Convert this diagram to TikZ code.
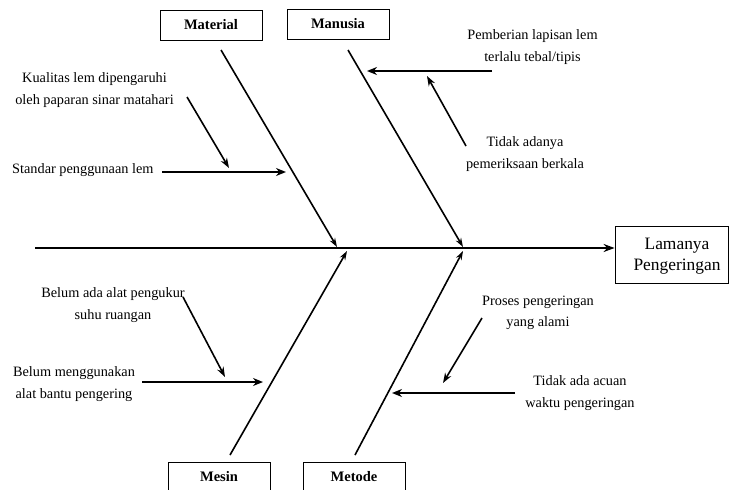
\documentclass[tikz,border=0pt]{standalone}
\usepackage{fontspec}
\setmainfont{Liberation Serif}
\usetikzlibrary{arrows.meta}
\begin{document}
\begin{tikzpicture}[x=1pt,y=-1pt,
  catbox/.style={draw,line width=0.8pt,minimum width=102pt,minimum height=30pt,inner sep=0pt,font=\bfseries\fontsize{14.5}{16}\selectfont},
  effbox/.style={draw,line width=0.8pt,minimum width=113pt,minimum height=57pt,inner sep=0pt},
  efftext/.style={align=center,inner sep=0pt,font=\fontsize{17.4}{21}\selectfont},
  causetext/.style={align=center,inner sep=0pt,font=\fontsize{14.3}{21.5}\selectfont},
  bone/.style={line width=1.6pt,-{Stealth[length=9pt,width=6pt]}},
  spine/.style={line width=2.6pt,-{Stealth[length=11pt,width=8pt]}},
  thickcause/.style={line width=2.8pt,-{Stealth[length=10pt,width=8pt]}},
  thincause/.style={line width=1.6pt,-{Stealth[length=10pt,width=7pt]}}]
\useasboundingbox (0,0) rectangle (729,490);
\clip (0,0) rectangle (729,490);

% category boxes
\node[catbox] (material) at (211,25) {Material};
\node[catbox] (manusia) at (338,24) {Manusia};
\node[catbox] (mesin) at (219,477) {Mesin};
\node[catbox] (metode) at (354,477) {Metode};

% effect
\node[effbox] (effect) at (671.5,254.5) {};
\node[efftext] (efflabel) at (677,256) {Lamanya\\Pengeringan};

% spine
\coordinate (tail) at (35,248);
\draw[spine] (tail) -- (tail -| effect.west);

% main bones
\coordinate (matS) at (221,50);  \coordinate (matE) at (337,247);
\coordinate (manS) at (348,50);  \coordinate (manE) at (463,247);
\coordinate (mesS) at (230,455); \coordinate (mesE) at (347,251);
\coordinate (metS) at (355,455); \coordinate (metE) at (463,251);
\draw[bone] (matS) -- (matE);
\draw[bone] (manS) -- (manE);
\draw[bone] (mesS) -- (mesE);
\draw[bone] (metS) -- (metE);

% material causes
\node[causetext] (c1) at (94.5,90) {Kualitas lem dipengaruhi\\oleh paparan sinar matahari};
\node[causetext,anchor=west] (c2) at (12,170) {Standar penggunaan lem};
\coordinate (c1a) at (187,97);  \coordinate (c1b) at (229,168);
\coordinate (c2a) at (162,172); \coordinate (c2b) at (286,172);
\draw[thincause] (c1a) -- (c1b);
\draw[thickcause] (c2a) -- (c2b);

% manusia causes
\node[causetext] (c3) at (532.5,47) {Pemberian lapisan lem\\terlalu tebal/tipis};
\node[causetext] (c4) at (525,154) {Tidak adanya\\pemeriksaan berkala};
\coordinate (c3a) at (492,71);  \coordinate (c3b) at (367,71);
\coordinate (c4a) at (466,146); \coordinate (c4b) at (427,76);
\draw[thickcause] (c3a) -- (c3b);
\draw[thincause] (c4a) -- (c4b);

% mesin causes
\node[causetext] (c5) at (113,305) {Belum ada alat pengukur\\suhu ruangan};
\node[causetext] (c6) at (74,384) {Belum menggunakan\\alat bantu pengering};
\coordinate (c5a) at (183,297); \coordinate (c5b) at (225,377);
\coordinate (c6a) at (142,382); \coordinate (c6b) at (263,382);
\draw[thincause] (c5a) -- (c5b);
\draw[thickcause] (c6a) -- (c6b);

% metode causes
\node[causetext] (c7) at (538,313) {Proses pengeringan\\yang alami};
\node[causetext] (c8) at (580,393) {Tidak ada acuan\\waktu pengeringan};
\coordinate (c7a) at (482,318); \coordinate (c7b) at (443,383);
\coordinate (c8a) at (515,393); \coordinate (c8b) at (392,393);
\draw[thincause] (c7a) -- (c7b);
\draw[thickcause] (c8a) -- (c8b);
\end{tikzpicture}
\end{document}
